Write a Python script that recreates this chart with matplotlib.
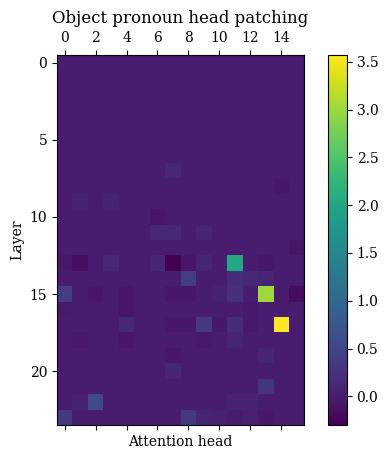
import matplotlib
matplotlib.use("Agg")
import matplotlib.pyplot as plt
import numpy as np

plt.rcParams['font.family'] = 'DejaVu Serif'

n_layers = 24
n_heads = 16

# nonzero cells: (layer, head, value)
cells = [
    (7, 7, 0.15),
    (8, 14, -0.05),
    (9, 1, 0.08), (9, 3, 0.08),
    (10, 6, -0.06),
    (11, 6, 0.15), (11, 7, 0.15), (11, 9, 0.1),
    (12, 15, -0.06),
    (13, 0, -0.03), (13, 1, -0.15), (13, 3, 0.15), (13, 6, 0.12), (13, 7, -0.3),
    (13, 8, -0.05), (13, 9, 0.1), (13, 11, 2.05), (13, 13, -0.05),
    (14, 8, 0.4), (14, 11, 0.2), (14, 12, 0.15), (14, 13, 0.1),
    (15, 0, 0.4), (15, 2, -0.05), (15, 4, -0.05), (15, 7, -0.05), (15, 8, -0.05),
    (15, 10, 0.05), (15, 11, 0.25), (15, 13, 3.0), (15, 15, -0.17),
    (16, 0, -0.02), (16, 4, -0.05), (16, 12, -0.03),
    (17, 4, 0.15), (17, 7, -0.05), (17, 8, -0.05), (17, 9, 0.35), (17, 10, -0.05),
    (17, 11, 0.2), (17, 12, -0.03), (17, 14, 3.57),
    (18, 1, -0.03), (18, 4, -0.05), (18, 9, -0.03), (18, 11, 0.1),
    (19, 7, -0.06), (19, 13, 0.1),
    (20, 7, 0.12),
    (21, 13, 0.3),
    (22, 1, 0.05), (22, 2, 0.6), (22, 11, 0.07), (22, 12, 0.07),
    (23, 0, 0.35), (23, 8, 0.35), (23, 9, 0.1), (23, 10, 0.05), (23, 12, 0.05), (23, 13, -0.05),
]

data = np.zeros((n_layers, n_heads))
for l, h, v in cells:
    data[l, h] = v

fig = plt.figure(figsize=(3.88, 4.59), dpi=100)
ax = fig.add_axes([0.147, 0.074, 0.637, 0.806])
cax = fig.add_axes([0.845, 0.074, 0.049, 0.806])

im = ax.imshow(data, cmap='viridis', aspect='auto', vmin=-0.3, vmax=3.57)
ax.xaxis.set_ticks_position('both')
ax.xaxis.set_label_position('bottom')
ax.tick_params(axis='x', labeltop=True, labelbottom=False)
ax.set_xticks(np.arange(0, 16, 2))
ax.set_yticks(np.arange(0, 24, 5))
ax.set_xlabel('Attention head')
ax.set_ylabel('Layer')
ax.set_title('Object pronoun head patching', fontsize=12)

fig.colorbar(im, cax=cax)

fig.savefig('out.png', dpi=100)
